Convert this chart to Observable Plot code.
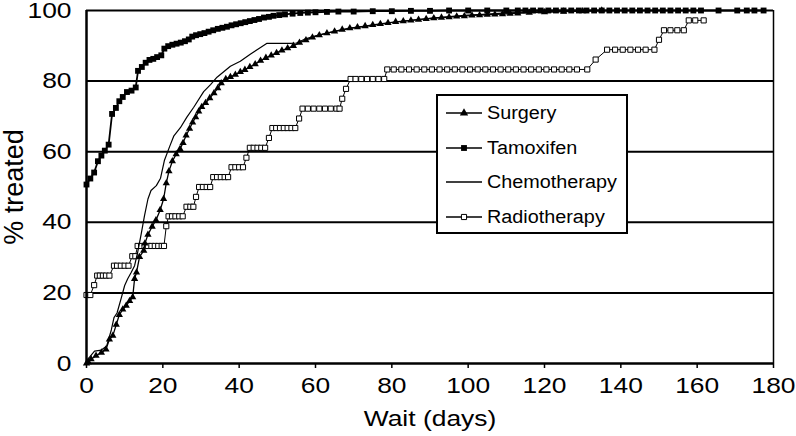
<!DOCTYPE html>
<html>
<head>
<meta charset="utf-8">
<script src="https://cdn.jsdelivr.net/npm/d3@7"></script>
<script src="https://cdn.jsdelivr.net/npm/@observablehq/plot@0.6"></script>
<style>
  html, body { margin: 0; padding: 0; background: #fff; }
  #chart { width: 796px; height: 436px; }
</style>
</head>
<body>
<div id="chart"></div>
<script>
const xTicks = [0, 20, 40, 60, 80, 100, 120, 140, 160, 180];
const yTicks = [0, 20, 40, 60, 80, 100];
const xTitle = "Wait (days)";
const yTitle = "% treated";
const seriesNames = ["Surgery", "Tamoxifen", "Chemotherapy", "Radiotherapy"];

// [wait days, % treated]
const surgery = [[0,0],[0.5,0.4],[1.2,1.2],[2.5,2.2],[3.9,3.1],[5.1,4],[6,6.8],[6.9,7.9],[7.8,11],[8.6,13.8],[9.5,15.3],[10.4,16.4],[11.3,17.7],[12.1,18.8],[12.6,24],[13.1,25.8],[13.9,30.2],[15,32],[15.3,34],[16.1,36.5],[17.2,38.8],[18.2,40.6],[19.3,43.5],[20.2,46.6],[20.9,51.1],[21.6,54.5],[22.5,57.3],[23.5,59.3],[24.5,60.8],[25.3,62.5],[26.1,64.6],[27,66.5],[27.8,68.3],[28.6,69.8],[29.4,71.4],[30.2,72.7],[31.2,73.8],[32.3,75.2],[33.4,76.6],[34.4,78],[35.3,79.4],[36.5,80.6],[37.7,81.2],[39,81.8],[40.3,82.6],[41.5,83.2],[42.8,84],[44.2,84.8],[45.6,85.8],[47,86.6],[48.4,87.3],[49.8,88],[51.2,88.7],[52.7,89.3],[54.2,90],[55.8,90.9],[57.5,91.6],[59.2,92.4],[61,93],[63,93.6],[65,94.1],[67,94.6],[69,95],[71,95.3],[73,95.6],[75,95.9],[77,96.2],[79,96.5],[81,96.8],[83,97],[85,97.2],[87,97.4],[89,97.6],[91,97.8],[93,98],[95,98.1],[97,98.3],[99,98.4],[101,98.6],[103,98.7],[105,98.8],[107,98.9],[109,99],[111,99.1],[113,99.2],[116,99.4],[120,99.5],[125,99.7],[130,99.8],[135,100]];

const tamoxifen = [[0,50.7],[1,52.4],[2,54.1],[3,57.3],[3.9,58.9],[4.8,60.3],[5.8,62],[6.7,70.7],[7.7,72.4],[8.6,74.3],[9.5,75.5],[10.6,76.9],[11.8,77.3],[12.9,78.2],[13.5,82.9],[14.5,84],[15.5,85.2],[16.5,86],[17.5,86.3],[18.5,86.8],[19.6,87.3],[20.4,89.2],[21.4,89.9],[22.5,90.3],[23.6,90.6],[24.7,90.9],[25.8,91.3],[26.8,91.8],[27.7,92.6],[28.7,93],[29.8,93.3],[30.9,93.6],[32,94],[33.2,94.4],[34.4,94.8],[35.6,95.1],[36.8,95.4],[38,95.8],[39.2,96.1],[40.4,96.4],[41.6,96.7],[42.8,97],[44,97.3],[45.2,97.6],[46.5,98],[47.8,98.2],[49,98.5],[50.5,98.7],[52,98.9],[54,99.1],[56,99.3],[58,99.4],[60,99.5],[63,99.6],[66,99.7],[70,99.7],[75,99.8],[80,99.8],[85,99.9],[90,99.9],[95,100],[100,100],[105,100],[110,100],[113,100],[115,100],[117,100],[119,100],[121,100],[123,100],[125,100],[127,100],[129,100],[131,100],[133,100],[135,100],[137,100],[139,100],[141,100],[143,100],[145,100],[147,100],[149,100],[151,100],[153,100],[155,100],[157,100],[159,100],[161,100],[165.6,100],[170.5,100],[173,100],[175,100],[177.4,100]];

const chemotherapy = [[0,0.9],[0.8,1.8],[2.1,3.5],[3.9,3.8],[5.3,5],[6.5,9.5],[7.2,13],[8,14.3],[9.1,18.5],[10,22.1],[10.8,24],[11.7,25.8],[12.6,27.7],[13.4,31.5],[14.3,36.5],[15.2,41.9],[16.1,46.6],[16.9,49],[18.3,50.4],[19.4,52.5],[20.4,57.5],[21.8,61.5],[22.9,64.5],[24.6,66.8],[26.3,69.8],[28.1,72.6],[30.7,77],[32.5,79],[34.2,81.1],[37.7,84.2],[40.3,85.6],[43,87.7],[45.6,89.5],[47.3,90.7],[50,90.7],[53.4,90.7],[55,90.8],[57,91.8],[60,92.8],[63,93.6],[66,94.3],[70,95.1],[75,95.8],[80,96.6],[85,97.2],[90,97.8],[95,98.3],[100,98.7],[105,99],[110,99.3],[115,99.5],[120,99.7],[125,99.9],[130,100]];

const radiotherapy = [[0,19.4],[1,19.4],[2,22.2],[2.8,24.9],[3.5,24.9],[4.3,24.9],[5.1,24.9],[6,24.9],[7.2,27.7],[8,27.7],[9,27.7],[10,27.7],[11,27.7],[12,30.4],[12.8,30.4],[13.4,33.3],[14.3,33.3],[15.2,33.3],[16.1,33.3],[17,33.3],[17.9,33.3],[18.8,33.3],[19.7,33.3],[20.3,33.3],[20.9,38.9],[21.5,41.7],[22.4,41.7],[23.3,41.7],[24.3,41.7],[25.2,41.7],[26.2,44.4],[27.2,44.4],[28,44.4],[28.7,47.2],[29.5,50],[30.5,50],[31.5,50],[32.4,50],[33.2,52.8],[34.2,52.8],[35.2,52.8],[36.2,52.8],[37.1,52.8],[38,55.6],[39,55.6],[40,55.6],[41,55.6],[41.9,58.3],[42.8,61.1],[43.8,61.1],[44.8,61.1],[45.8,61.1],[46.8,61.1],[47.8,63.9],[48.7,66.7],[49.7,66.7],[50.7,66.7],[51.7,66.7],[52.7,66.7],[53.7,66.7],[54.7,66.7],[55.7,69.4],[56.6,72.2],[58,72.2],[59.5,72.2],[61,72.2],[62.5,72.2],[64,72.2],[65.5,72.2],[66.3,72.2],[67,75],[68,77.8],[69.2,80.6],[70.5,80.6],[72,80.6],[73.5,80.6],[75,80.6],[76.5,80.6],[78,80.6],[78.8,83.3],[80.5,83.3],[82.5,83.3],[84.5,83.3],[86.5,83.3],[88.5,83.3],[90.5,83.3],[92.5,83.3],[94.5,83.3],[96.5,83.3],[98.5,83.3],[100.5,83.3],[102.5,83.3],[104.5,83.3],[106.5,83.3],[108.5,83.3],[110.5,83.3],[112.5,83.3],[114.5,83.3],[116.5,83.3],[118.5,83.3],[120.5,83.3],[122.5,83.3],[124.5,83.3],[126.5,83.3],[128.5,83.3],[131.2,83.3],[133.4,86.1],[136.4,88.9],[138.5,88.9],[140.5,88.9],[142.5,88.9],[144.5,88.9],[146.5,88.9],[148.8,88.9],[150,91.7],[151.3,94.4],[153,94.4],[154.8,94.4],[156.5,94.4],[157.8,97.2],[159.5,97.2],[161.7,97.2]];

const toRows = (arr) => arr.map(([d, p]) => ({d, p}));
const S = toRows(surgery), T = toRows(tamoxifen), C = toRows(chemotherapy), R = toRows(radiotherapy);

const font = "'Liberation Sans', Arial, Helvetica, sans-serif";

const chart = Plot.plot({
  width: 796,
  height: 436,
  marginLeft: 86,
  marginRight: 23,
  marginTop: 10,
  marginBottom: 73,
  style: {fontFamily: font, fontSize: "22px", color: "black", background: "white", overflow: "visible"},
  x: {domain: [0, 180]},
  y: {domain: [0, 100]},
  marks: [
    Plot.ruleY(yTicks.filter(v => v > 0), {stroke: "black", strokeWidth: 2}),
    Plot.ruleX([180], {stroke: "black", strokeWidth: 1.5}),
    Plot.axisX({ticks: xTicks, tickSize: 5, tickPadding: 9, label: null, fontSize: 22, strokeWidth: 1.5}),
    Plot.axisY({ticks: yTicks, tickSize: 0, tickPadding: 15, label: null, fontSize: 22}),
    Plot.text([xTitle], {frameAnchor: "bottom", textAnchor: "middle", lineAnchor: "middle", dy: 55, fontSize: 22, fill: "black"}),
    Plot.text([yTitle], {frameAnchor: "left", textAnchor: "middle", lineAnchor: "middle", dx: -72, rotate: -90, fontSize: 27, fill: "black"}),
    // radiotherapy
    Plot.line(R, {x: "d", y: "p", stroke: "black", strokeWidth: 1}),
    Plot.dot(R, {x: "d", y: "p", symbol: "square", r: 2.9, stroke: "black", strokeWidth: 1, fill: "white"}),
    // chemotherapy
    Plot.line(C, {x: "d", y: "p", stroke: "black", strokeWidth: 1.2}),
    // surgery
    Plot.line(S, {x: "d", y: "p", stroke: "black", strokeWidth: 1.3}),
    Plot.dot(S, {x: "d", y: "p", symbol: "triangle", r: 2.7, fill: "black", stroke: "none"}),
    // tamoxifen
    Plot.line(T, {x: "d", y: "p", stroke: "black", strokeWidth: 1.8}),
    Plot.dot(T, {x: "d", y: "p", symbol: "square", r: 3.3, fill: "black", stroke: "none"}),
    // axis lines
    Plot.ruleX([0], {stroke: "black", strokeWidth: 2.5}),
    Plot.ruleY([0], {stroke: "black", strokeWidth: 2.5})
  ]
});

document.getElementById("chart").appendChild(chart);

// The reference's lettering is horizontally wider than Arial: widen non-rotated texts
const STRETCH = 1.2;
d3.select(chart).selectAll("text").each(function () {
  const tr = this.getAttribute("transform") || "";
  if (tr.includes("rotate")) return;
  const L = this.getComputedTextLength();
  if (L > 0) {
    this.setAttribute("textLength", (L * STRETCH).toFixed(2));
    this.setAttribute("lengthAdjust", "spacingAndGlyphs");
  }
});

// Legend (inside plot, drawn on top)
const svg = d3.select(chart);
const lg = svg.append("g").attr("font-family", font).attr("font-size", 18).attr("text-anchor", "start");
const bx = 437, by = 95, bw = 190, bh = 138;
lg.append("rect").attr("x", bx).attr("y", by).attr("width", bw).attr("height", bh)
  .attr("fill", "white").attr("stroke", "black").attr("stroke-width", 2);
const rowY = [113, 148, 182, 217];
const sym = {
  Surgery: {type: d3.symbolTriangle, size: Math.PI * 2.7 * 2.7 * 1.3, fill: "black", stroke: "none"},
  Tamoxifen: {type: d3.symbolSquare, size: Math.PI * 3.3 * 3.3, fill: "black", stroke: "none"},
  Chemotherapy: null,
  Radiotherapy: {type: d3.symbolSquare, size: Math.PI * 2.9 * 2.9, fill: "white", stroke: "black"}
};
seriesNames.forEach((name, i) => {
  const y = rowY[i];
  lg.append("line").attr("x1", 446).attr("x2", 482).attr("y1", y).attr("y2", y)
    .attr("stroke", "black").attr("stroke-width", 1.5);
  const s = sym[name];
  if (s) {
    lg.append("path").attr("d", d3.symbol(s.type, s.size)())
      .attr("transform", `translate(464,${y})`)
      .attr("fill", s.fill).attr("stroke", s.stroke).attr("stroke-width", 1);
  }
  const t = lg.append("text").attr("x", 487).attr("y", y)
    .attr("dy", "0.35em").attr("fill", "black").text(name);
  const L = t.node().getComputedTextLength();
  t.attr("textLength", (L * 1.1).toFixed(2)).attr("lengthAdjust", "spacingAndGlyphs");
});
</script>
</body>
</html>
